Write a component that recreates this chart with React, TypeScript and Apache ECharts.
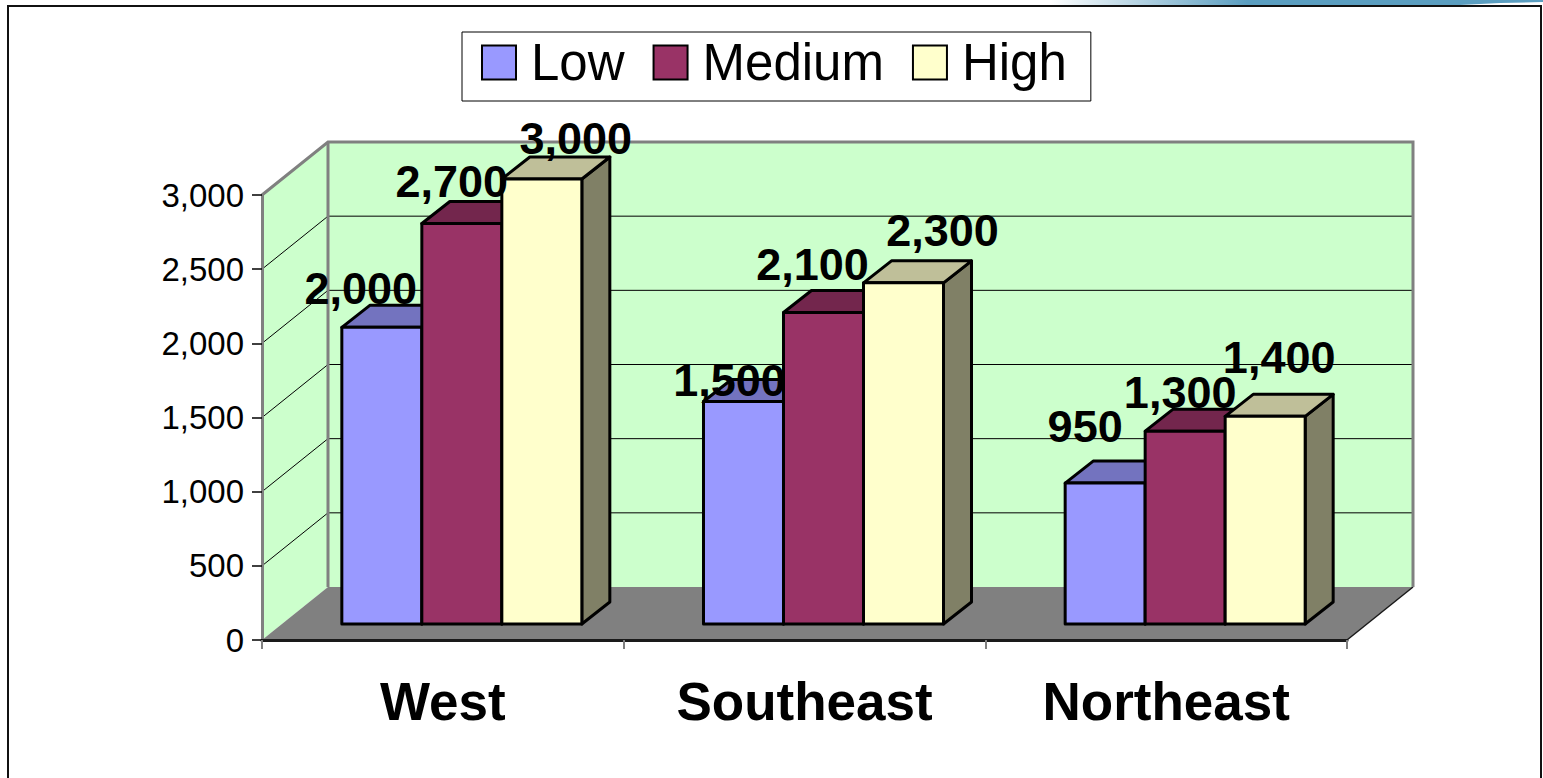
import React, { useEffect, useRef } from "react";
import * as echarts from "echarts";

// ---- data ----
const categories = ["West", "Southeast", "Northeast"];
const seriesNames = ["Low", "Medium", "High"];
const lowValues = [2000, 1500, 950];
const mediumValues = [2700, 2100, 1300];
const highValues = [3000, 2300, 1400];
const valueAxisMin = 0;
const valueAxisMax = 3000;
const valueAxisStep = 500;

// ---- styling / layout ----
const FONT = "'Liberation Sans', Arial, Helvetica, sans-serif";
const frontColors = ["#9999FF", "#993366", "#FFFFCC"];
const topColors = ["#7373BF", "#73264D", "#BFBF99"];
const sideColors = ["#4D4D80", "#4D1A33", "#808066"];
const WALL_COLOR = "#CCFFCC";
const FLOOR_COLOR = "#808080";
const WALL_EDGE = "#808080";
const WALL_DEPTH = [66, -53]; // oblique offset of the back plane
const BAR_SHIFT = [19, -16]; // bar front face offset from the front plane
const BAR_DEPTH = [28, -22]; // bar thickness in depth
const BAR_WIDTH_RATIO = 0.2212; // of a category band
// label nudges: [dx from front-face centre, dy of baseline from back top edge]
const labelNudge = [
  [[-21, -1], [-14, 17], [-20, -19]],
  [[-10, -4], [-11, -10], [-5, -1]],
  [[34, -3], [39, -14], [14, -21]],
];

const seriesValues = [lowValues, mediumValues, highValues];
const fmt = (v: number) => v.toLocaleString("en-US");

function barGeometry(api: any, s: number) {
  const cat = api.value(0);
  const val = api.value(1);
  const [cx, yv] = api.coord([cat, val]);
  const y0 = api.coord([cat, 0])[1];
  const band = api.size([1, 0])[0];
  const bw = band * BAR_WIDTH_RATIO;
  const x0 = cx - 1.5 * bw + s * bw + BAR_SHIFT[0];
  const top = yv + BAR_SHIFT[1];
  const bottom = y0 + BAR_SHIFT[1];
  return { x0, bw, top, bottom };
}

export default function App() {
  const ref = useRef<HTMLDivElement>(null);

  useEffect(() => {
    if (!ref.current) return;
    const chart = echarts.init(ref.current, undefined, { renderer: "svg" });
    const [dx, dy] = WALL_DEPTH;
    const [bdx, bdy] = BAR_DEPTH;

    const wallsSeries = {
      type: "custom",
      name: "walls",
      z: 1,
      silent: true,
      data: [[0, 0]],
      renderItem: (params: any, api: any) => {
        const cs = params.coordSys;
        const L = cs.x;
        const R = cs.x + cs.width;
        const B = api.coord([0, valueAxisMin])[1];
        const T = api.coord([0, valueAxisMax])[1];
        const children: any[] = [
          {
            type: "polygon",
            shape: { points: [[L, B], [L, T], [L + dx, T + dy], [L + dx, B + dy]] },
            style: { fill: WALL_COLOR },
          },
          {
            type: "polygon",
            shape: { points: [[L + dx, T + dy], [R + dx, T + dy], [R + dx, B + dy], [L + dx, B + dy]] },
            style: { fill: WALL_COLOR },
          },
        ];
        for (let v = valueAxisMin + valueAxisStep; v < valueAxisMax; v += valueAxisStep) {
          const y = api.coord([0, v])[1];
          children.push({
            type: "line",
            shape: { x1: L + dx, y1: y + dy, x2: R + dx, y2: y + dy },
            style: { stroke: "#000", lineWidth: 1 },
          });
          children.push({
            type: "line",
            shape: { x1: L, y1: y, x2: L + dx, y2: y + dy },
            style: { stroke: "#000", lineWidth: 1 },
          });
        }
        children.push({
          type: "polygon",
          shape: { points: [[L, B], [R, B], [R + dx, B + dy], [L + dx, B + dy]] },
          style: { fill: FLOOR_COLOR },
        });
        children.push({
          type: "line",
          shape: { x1: R, y1: B, x2: R + dx, y2: B + dy },
          style: { stroke: "#1a1a1a", lineWidth: 1.5 },
        });
        children.push({
          type: "polyline",
          shape: { points: [[L, T], [L + dx, T + dy], [R + dx, T + dy], [R + dx, B + dy]] },
          style: { stroke: WALL_EDGE, lineWidth: 3, fill: "none" },
        });
        children.push({
          type: "line",
          shape: { x1: L + dx, y1: T + dy, x2: L + dx, y2: B + dy },
          style: { stroke: WALL_EDGE, lineWidth: 3 },
        });
        return { type: "group", children };
      },
    };

    const barSeries = seriesNames.map((name, s) => ({
      type: "custom",
      name,
      z: 2,
      itemStyle: { color: frontColors[s] },
      data: seriesValues[s].map((v, i) => [i, v]),
      renderItem: (_params: any, api: any) => {
        const { x0, bw, top, bottom } = barGeometry(api, s);
        const edge = { stroke: "#000", lineWidth: 3, lineJoin: "round" };
        return {
          type: "group",
          children: [
            {
              type: "polygon",
              z2: s + 1,
              shape: { points: [[x0 + bw, top], [x0 + bw + bdx, top + bdy], [x0 + bw + bdx, bottom + bdy], [x0 + bw, bottom]] },
              style: { fill: sideColors[s], ...edge },
            },
            {
              type: "polygon",
              z2: s + 1,
              shape: { points: [[x0, top], [x0 + bw, top], [x0 + bw + bdx, top + bdy], [x0 + bdx, top + bdy]] },
              style: { fill: topColors[s], ...edge },
            },
            {
              type: "rect",
              z2: s + 1,
              shape: { x: x0, y: top, width: bw, height: bottom - top },
              style: { fill: frontColors[s], ...edge },
            },
          ],
        };
      },
    }));

    const labelData: number[][] = [];
    seriesValues.forEach((vals, s) => vals.forEach((v, i) => labelData.push([i, v, s])));
    const labelSeries = {
      type: "custom",
      name: "values",
      z: 3,
      silent: true,
      data: labelData,
      renderItem: (params: any, api: any) => {
        const s = api.value(2);
        const i = api.value(0);
        const { x0, bw, top } = barGeometry(api, s);
        const [ndx, ndy] = labelNudge[s][i];
        return {
          type: "text",
          z2: 20,
          x: x0 + bw / 2 + ndx,
          y: top + bdy + ndy - 16,
          style: {
            text: fmt(api.value(1)),
            fontFamily: FONT,
            fontWeight: "bold",
            fontSize: 45,
            fill: "#000",
            align: "center",
            verticalAlign: "middle",
          },
        };
      },
    };

    chart.setOption({
      animation: false,
      backgroundColor: "#fff",
      textStyle: { fontFamily: FONT },
      grid: { left: 262, top: 195, width: 1085, height: 445, containLabel: false },
      legend: {
        data: seriesNames.map((name, s) => ({
          name,
          itemStyle: { color: frontColors[s], borderColor: "#000", borderWidth: 2 },
        })),
        left: 462,
        top: 32,
        icon: "rect",
        itemWidth: 34,
        itemHeight: 34,
        itemGap: 28,
        padding: [5, 24, 13, 19],
        borderColor: "#000",
        borderWidth: 1,
        backgroundColor: "#fff",
        textStyle: { fontSize: 51, color: "#000", fontFamily: FONT, padding: [0, 0, 0, 10] },
      },
      xAxis: {
        type: "category",
        data: categories,
        z: 5,
        axisLine: { lineStyle: { color: "#1a1a1a", width: 3 } },
        axisTick: { show: true, length: 9, lineStyle: { color: "#808080", width: 2 } },
        axisLabel: { fontSize: 53, fontWeight: "bold", color: "#000", margin: 35, fontFamily: FONT },
        splitLine: { show: false },
      },
      yAxis: {
        type: "value",
        min: valueAxisMin,
        max: valueAxisMax,
        interval: valueAxisStep,
        z: 5,
        axisLine: { show: true, lineStyle: { color: WALL_EDGE, width: 3 } },
        axisTick: { show: true, length: 10, lineStyle: { color: "#000", width: 1.5 } },
        axisLabel: { fontSize: 33, color: "#000", margin: 18, fontFamily: FONT, formatter: (v: number) => fmt(v) },
        splitLine: { show: false },
      },
      graphic: [
        {
          type: "rect",
          z: 100,
          silent: true,
          shape: { x: 8, y: 6, width: 1533, height: 800 },
          style: { fill: "none", stroke: "#111", lineWidth: 2 },
        },
        {
          type: "polygon",
          z: 100,
          silent: true,
          shape: { points: [[1050, 0], [1543, 0], [1543, 2], [1500, 3], [1460, 5], [1050, 5]] },
          style: {
            fill: new echarts.graphic.LinearGradient(0, 0, 1, 0, [
              { offset: 0, color: "rgba(91,158,192,0)" },
              { offset: 0.4, color: "rgba(91,158,192,1)" },
              { offset: 1, color: "rgba(91,158,192,1)" },
            ]),
          },
        },
      ],
      series: [wallsSeries, ...barSeries, labelSeries],
    });

    return () => chart.dispose();
  }, []);

  return (
    <div
      ref={ref}
      style={{ position: "absolute", left: 0, top: 0, width: 1543, height: 778 }}
    />
  );
}
